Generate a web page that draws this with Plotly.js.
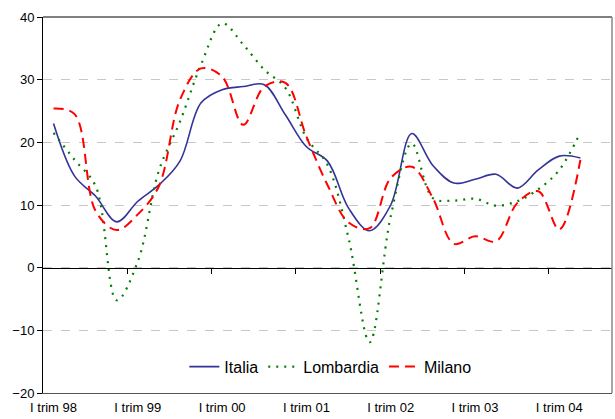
<!DOCTYPE html>
<html>
<head>
<meta charset="utf-8">
<script src="https://cdn.plot.ly/plotly-3.0.1.min.js"></script>
<style>html,body{margin:0;padding:0;background:#fff}#chart{width:615px;height:419px}</style>
</head>
<body>
<div id="chart"></div>
<script>
// Quarter index 0 = I trim 98 ... 26 = III trim 04
var quarters = [0,1,2,3,4,5,6,7,8,9,10,11,12,13,14,15,16,17,18,19,20,21,22,23,24,25];
var italia    = [23.0,14.6,11.4,7.3,10.6,13.2,17.0,26.3,28.4,28.9,29.2,24.4,19.3,17.0,9.5,5.9,10.0,21.4,16.3,13.5,14.1,14.9,12.7,15.6,17.8,17.5];
var lombardia = [21.5,17.2,13.0,-5.2,1.0,15.5,23.3,32.4,39.0,35.6,31.6,28.7,20.7,16.4,4.7,-11.9,8.2,19.8,11.1,10.7,11.0,9.9,10.6,12.5,15.6,21.6];
var milano    = [25.4,24.5,9.0,6.0,8.5,13.0,26.8,31.8,30.5,22.8,28.9,29.5,20.9,13.2,7.2,6.3,14.3,16.1,11.1,3.8,5.0,4.2,10.3,12.2,6.1,17.2];
var tickPos    = [0,4,8,12,16,20,24];
var tickLabels = ["I trim 98","I trim 99","I trim 00","I trim 01","I trim 02","I trim 03","I trim 04"];
var yearBounds = [3.5,7.5,11.5,15.5,19.5,23.5];
var yTicks = [-20,-10,0,10,20,30,40];

var font = {family: "Liberation Sans, Arial, sans-serif", size: 13, color: "#000"};

var traces = [
  {x: quarters, y: italia, name: "Italia", type: "scatter", mode: "lines",
   line: {color: "#333399", width: 1.6, shape: "spline", smoothing: 1}},
  {x: quarters, y: lombardia, name: "Lombardia", type: "scatter", mode: "lines",
   line: {color: "#008000", width: 2.2, dash: "2px,6px", shape: "spline", smoothing: 1}},
  {x: quarters, y: milano, name: "Milano", type: "scatter", mode: "lines",
   line: {color: "#FF0000", width: 2, dash: "10px,6px", shape: "spline", smoothing: 1}},
  // invisible trace to carry the zero-line axis
  {x: [0], y: [0], xaxis: "x2", yaxis: "y", showlegend: false, hoverinfo: "skip",
   mode: "markers", marker: {opacity: 0}}
];

var layout = {
  width: 615, height: 419,
  margin: {l: 43, r: 3, t: 17, b: 26},
  paper_bgcolor: "#fff", plot_bgcolor: "#fff",
  font: font,
  showlegend: true,
  legend: {orientation: "h", x: 0.505, xanchor: "center", y: 0.07, yanchor: "middle",
           bgcolor: "rgba(0,0,0,0)", font: {family: font.family, size: 16, color: "#000"},
           itemwidth: 30, tracegroupgap: 0},
  xaxis: {range: [-0.5, 26.5], tickvals: tickPos, ticktext: tickLabels,
          ticks: "", showgrid: false, zeroline: false,
          showline: true, linecolor: "#555", linewidth: 1,
          ticklabelstandoff: 2, tickfont: font},
  xaxis2: {range: [-0.5, 26.5], overlaying: "x", anchor: "free", position: 1/3,
           side: "bottom", tickvals: yearBounds, showticklabels: false,
           ticks: "outside", ticklen: 5, tickcolor: "#000", tickwidth: 1,
           showline: true, linecolor: "#000", linewidth: 1,
           showgrid: false, zeroline: false},
  yaxis: {range: [-20, 40], tickvals: yTicks, ticks: "outside", ticklen: 5,
          tickcolor: "#000", showline: true, linecolor: "#000", linewidth: 1,
          showgrid: true, gridcolor: "#c8c8c8", griddash: "dash", gridwidth: 1,
          zeroline: false, tickfont: font},
  shapes: [
    {type: "line", xref: "paper", yref: "paper", x0: 0, x1: 1, y0: 1, y1: 1,
     line: {color: "#000", width: 1}},
    {type: "line", xref: "paper", yref: "paper", x0: 1, x1: 1, y0: 0, y1: 1,
     line: {color: "#888", width: 1.5}}
  ]
};

Plotly.newPlot("chart", traces, layout, {displayModeBar: false, staticPlot: true});
</script>
</body>
</html>
